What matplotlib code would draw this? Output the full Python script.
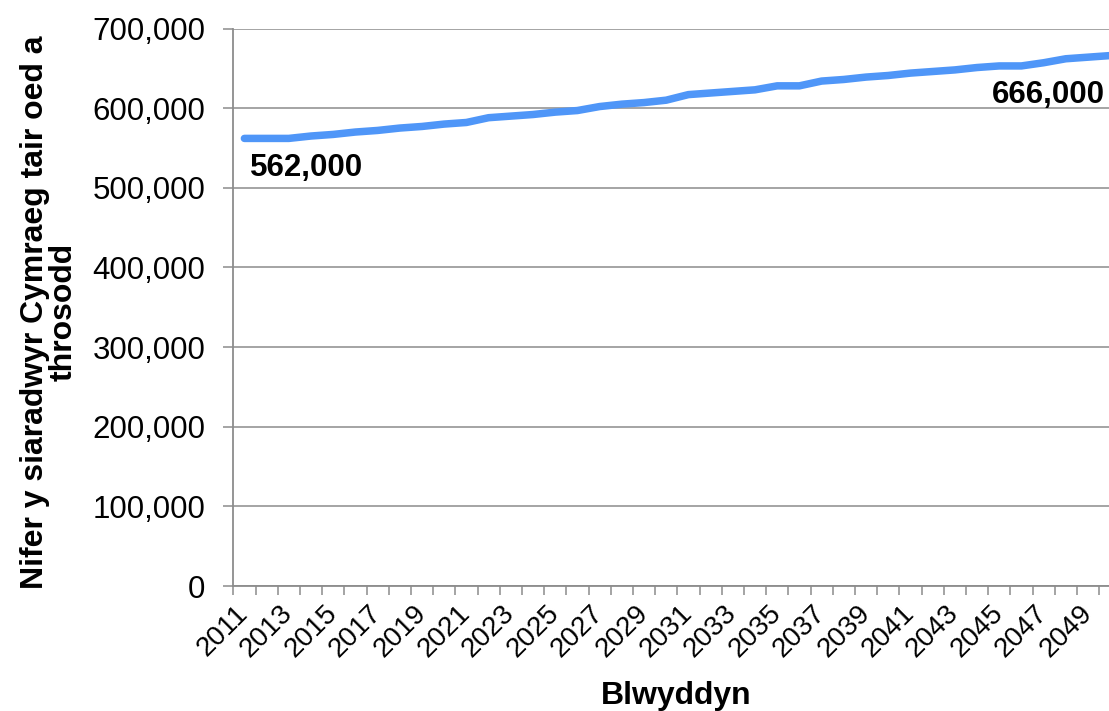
import numpy as np
import matplotlib
matplotlib.use("Agg")
import matplotlib.pyplot as plt
from matplotlib.ticker import FuncFormatter, FixedLocator

plt.rcParams['font.family'] = ['Liberation Sans', 'DejaVu Sans']

# Projected number of Welsh speakers aged three and over, by year
years = list(range(2011, 2051))
speakers = [562000, 562000, 562000, 565000, 567000, 570000, 572000, 575000,
            577000, 580000, 582000, 588000, 590000, 592000, 595000, 597000,
            602000, 605000, 607000, 610000, 617000, 619000, 621000, 623000,
            628000, 628000, 634000, 636000, 639000, 641000, 644000, 646000,
            648000, 651000, 653000, 653000, 657000, 662000, 664000, 666000]
y_ticks = [0, 100000, 200000, 300000, 400000, 500000, 600000, 700000]
x_title = "Blwyddyn"
y_title = "Nifer y siaradwyr Cymraeg tair oed a\nthrosodd"

W, H = 1109, 711
fig = plt.figure(figsize=(W / 100, H / 100), dpi=100)
# plot area (pixels): left 233, bottom axis at 586, top at 28.5, right runs past the edge
left_px, right_px, top_px, bottom_px = 233.3, 1121.3, 28.5, 586.0
ax = fig.add_axes([left_px / W, 1 - bottom_px / H,
                   (right_px - left_px) / W, (bottom_px - top_px) / H])

grey = '#8C8C8C'
line_color = '#4F96F8'

x = np.arange(len(years))
ax.plot(x, speakers, color=line_color, lw=5.4, solid_capstyle='round',
        solid_joinstyle='round', zorder=3, clip_on=False)

ax.set_xlim(-0.5, len(years) - 0.5)
ax.set_ylim(0, 700000)

# y axis
ax.set_yticks(y_ticks)
ax.yaxis.set_major_formatter(FuncFormatter(lambda v, p: f"{int(v):,}"))
ax.tick_params(axis='y', which='major', length=7, width=1.1, color=grey,
               labelsize=22.5, pad=13)
ax.grid(axis='y', color=grey, lw=1.1, zorder=0)

# x axis: tick marks between categories, labels on every other year
ax.xaxis.set_major_locator(FixedLocator(np.arange(-0.5, len(years), 1.0)))
ax.xaxis.set_major_formatter(FuncFormatter(lambda v, p: ""))
label_pos = x[::2]
ax.xaxis.set_minor_locator(FixedLocator(label_pos))
ax.set_xticklabels([str(years[i]) for i in label_pos], minor=True)
ax.tick_params(axis='x', which='major', length=6.5, width=1.1, color=grey)
ax.tick_params(axis='x', which='minor', length=0, labelsize=20, pad=17)
for lbl in ax.get_xticklabels(minor=True):
    lbl.set_rotation(45)
    lbl.set_ha('right')
    lbl.set_va('center')
    lbl.set_rotation_mode('anchor')

for side in ('top', 'right'):
    ax.spines[side].set_visible(False)
for side in ('left', 'bottom'):
    ax.spines[side].set_color(grey)
    ax.spines[side].set_linewidth(1.3)

# value labels at first and last year
ax.annotate(f"{speakers[0]:,}", xy=(x[0], speakers[0]), xytext=(6, -30),
            textcoords='offset pixels', ha='left', va='center',
            fontsize=22.5, fontweight='bold')
ax.annotate(f"{speakers[-1]:,}", xy=(x[-1], speakers[-1]), xytext=(-5, -39),
            textcoords='offset pixels', ha='right', va='center',
            fontsize=22.5, fontweight='bold', annotation_clip=False)

# axis titles
fig.text(676 / W, 1 - 696 / H, x_title, ha='center', va='center',
         fontsize=23, fontweight='bold')
fig.text(49 / W, 1 - 312 / H, y_title, ha='center', va='center',
         rotation=90, multialignment='center', fontsize=23,
         fontweight='bold', linespacing=0.95)

fig.savefig("out.png", dpi=100)
